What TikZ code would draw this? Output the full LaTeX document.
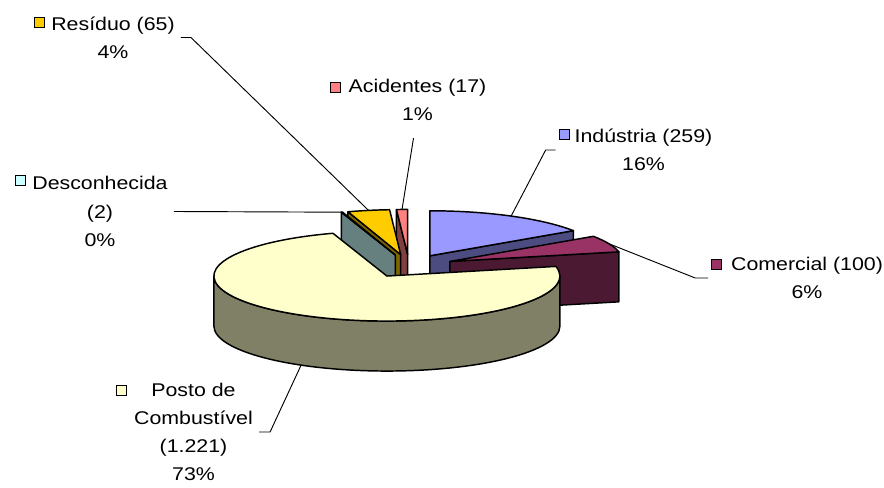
\documentclass[tikz,border=0pt]{standalone}
\usepackage{fontspec}
\setmainfont[FakeStretch=1.16]{Liberation Sans}
\usepackage{xcolor}
\usepackage{tikz}

\definecolor{indcol}{HTML}{9999FF}
\definecolor{comcol}{HTML}{993366}
\definecolor{postocol}{HTML}{FFFFCC}
\definecolor{desccol}{HTML}{CCFFFF}
\definecolor{rescol}{HTML}{FFCC00}
\definecolor{acidcol}{HTML}{FF8080}

\tikzset{
  wedge/.style={draw=black, line width=1.1pt, line join=round},
  lbl/.style={align=center, inner sep=4.5pt, font=\fontsize{13.8}{21.2}\selectfont},
  keybox/.style={draw=black, line width=0.7pt, minimum size=7.5pt, inner sep=0pt, outer sep=2.5pt},
  leader/.style={draw=black, line width=0.7pt}
}

\begin{document}
\begin{tikzpicture}[x=0.75pt, y=0.75pt]
\useasboundingbox (0,0) rectangle (884,488);

% Industria
\begin{scope}[shift={(20.9,10.2)}]
  \filldraw[wedge, fill=indcol!50!black] (409,222) -- ++(33.97:173 and 45) -- ++(0,-50) -- (409,172) -- cycle;
  \filldraw[wedge, fill=indcol] (409,222) -- ++(90:173 and 45) arc[start angle=90, end angle=33.97, x radius=173, y radius=45] -- cycle;
  \path (409,222) ++(61.99:173 and 45) coordinate (indtip);
\end{scope}

% Acidentes
\begin{scope}[shift={(-1.4,11.56)}]
  \filldraw[wedge, fill=acidcol!50!black] (409,222) -- ++(93.69:173 and 45) -- ++(0,-50) -- (409,172) -- cycle;
  \filldraw[wedge, fill=acidcol] (409,222) -- ++(93.69:173 and 45) arc[start angle=93.69, end angle=90, x radius=173, y radius=45] -- cycle;
  \path (409,222) ++(91.85:173 and 45) coordinate (acidtip);
\end{scope}

% Residuo
\begin{scope}[shift={(-8.3,11.37)}]
  \filldraw[wedge, fill=rescol!50!black] (409,222) -- ++(107.75:173 and 45) -- ++(0,-50) -- (409,172) -- cycle;
  \filldraw[wedge, fill=rescol] (409,222) -- ++(107.75:173 and 45) arc[start angle=107.75, end angle=93.69, x radius=173, y radius=45] -- cycle;
  \path (409,222) ++(100.72:173 and 45) coordinate (restip);
\end{scope}

% Desconhecida
\begin{scope}[shift={(-13.7,11.0)}]
  \filldraw[wedge, fill=desccol!50!black] (409,222) -- ++(108.18:173 and 45) -- ++(0,-50) -- (409,172) -- cycle;
  \filldraw[wedge, fill=desccol] (409,222) -- ++(108.18:173 and 45) arc[start angle=108.18, end angle=107.75, x radius=173, y radius=45] -- cycle;
  \path (409,222) ++(107.97:173 and 45) coordinate (desctip);
\end{scope}

% Comercial
\begin{scope}[shift={(40.9,4.55)}]
  \filldraw[wedge, fill=comcol!50!black] (409,222) -- ++(12.34:173 and 45) -- ++(0,-50) -- (409,172) -- cycle;
  \filldraw[wedge, fill=comcol] (409,222) -- ++(33.97:173 and 45) arc[start angle=33.97, end angle=12.34, x radius=173, y radius=45] -- cycle;
  \path (409,222) ++(23.16:173 and 45) coordinate (comtip);
\end{scope}

% Posto de Combustivel
\begin{scope}[shift={(-22.1,-10.05)}]
  \filldraw[wedge, fill=postocol!50!black] (582,222) arc[start angle=0, end angle=-180, x radius=173, y radius=45] -- ++(0,-50) arc[start angle=-180, end angle=0, x radius=173, y radius=45] -- cycle;
  \filldraw[wedge, fill=postocol] (409,222) -- ++(12.34:173 and 45) arc[start angle=12.34, end angle=-251.82, x radius=173, y radius=45] -- cycle;
  \path (409,222) ++(-119.74:173 and 45) ++(0,-50) coordinate (postotip);
\end{scope}

\node[lbl] (reslbl) at (113,450.5) {Resíduo (65)\\4\%};
\node[keybox, fill=rescol] (reskey) at (39,466) {};
\node[lbl] (acidlbl) at (417.5,388) {Acidentes (17)\\1\%};
\node[keybox, fill=acidcol] (acidkey) at (335,401) {};
\node[lbl] (desclbl) at (100,276.5) {Desconhecida\\(2)\\0\%};
\node[keybox, fill=desccol] (desckey) at (20,308) {};
\node[lbl] (indlbl) at (643.5,338) {Indústria (259)\\16\%};
\node[keybox, fill=indcol] (indkey) at (564,354) {};
\node[lbl] (comlbl) at (807,210) {Comercial (100)\\6\%};
\node[keybox, fill=comcol] (comkey) at (716.5,223.5) {};
\node[lbl] (postolbl) at (193.5,56) {Posto de\\Combustível\\(1.221)\\73\%};
\node[keybox, fill=postocol] (postokey) at (121,98) {};

\draw[leader] (reslbl.east) -- ++(10,0) -- (restip);
\draw[leader] ([shift={(-4,-11)}]acidlbl.south) -- (acidtip);
\draw[leader] (desclbl.east) -- (desctip);
\draw[leader] (indkey.west |- indlbl.center) -- ++(-10,0) -- (indtip);
\draw[leader] (comkey.west |- comlbl.center) -- ++(-13,0) -- (comtip);
\draw[leader] (postolbl.east) -- ++(11,0) -- (postotip);
\end{tikzpicture}
\end{document}
